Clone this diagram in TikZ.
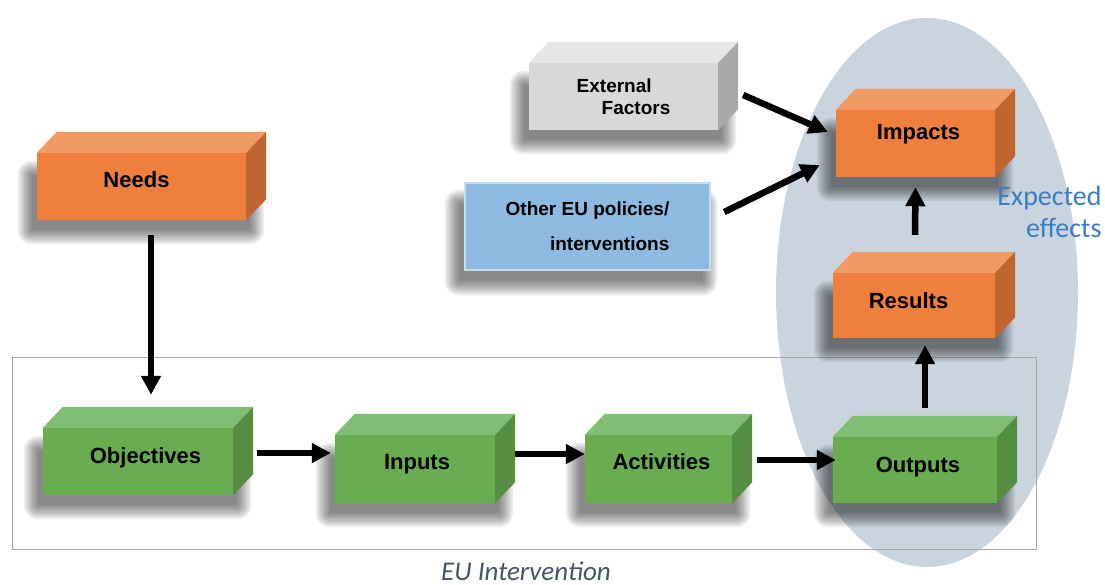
\documentclass[tikz,border=0pt]{standalone}
\usepackage{fontspec}
\setmainfont{Liberation Sans}
\newfontfamily\calibri{Carlito}
\usetikzlibrary{arrows.meta}
\definecolor{orfront}{HTML}{EE7F3C}
\definecolor{ortop}{HTML}{F29A64}
\definecolor{orside}{HTML}{BE6530}
\definecolor{grfront}{HTML}{69AD50}
\definecolor{grtop}{HTML}{80BF73}
\definecolor{grside}{HTML}{558D42}
\definecolor{gyfront}{HTML}{D8D8D8}
\definecolor{gytop}{HTML}{E6E6E6}
\definecolor{gyside}{HTML}{A9A9A9}
\definecolor{blfill}{HTML}{8EBAE2}
\definecolor{blline}{HTML}{C4DDF1}
\definecolor{effcol}{HTML}{C9D4DF}
\definecolor{slate}{HTML}{44546A}
\definecolor{effblue}{HTML}{3A7DC2}
\pgfdeclarelayer{backdrop}
\pgfdeclarelayer{shadow}
\pgfsetlayers{backdrop,shadow,main}
\newcommand*{\dpx}{20pt}
\newcommand*{\dpy}{21pt}
% top and right faces of a box, from its front node
\newcommand*{\faces}[3]{%
    \fill [#2] (#1.north west) -- ++(\dpx,\dpy) -- ([shift={(\dpx,\dpy)}]#1.north east) -- (#1.north east) -- cycle;
    \fill [#3] (#1.north east) -- ++(\dpx,\dpy) -- ([shift={(\dpx,\dpy)}]#1.south east) -- (#1.south east) -- cycle;
}
% soft shadow below left of a box
\newcommand*{\softshadow}[2][\dpx]{%
    \begin{pgfonlayer}{shadow}
    \foreach \r in {0,2,...,14}
        \fill [black, opacity=0.075, rounded corners=\r pt]
            ([shift={({-5pt-\r*1pt},{-10pt-\r*1pt})}]#2.south west) rectangle ([shift={({#1-16pt+\r*1pt},{-22pt+\r*1pt})}]#2.north east);
    \end{pgfonlayer}
}
\tikzset{
    front/.style={inner sep=0pt, minimum height=67pt},
    orbox/.style={front, fill=orfront},
    grbox/.style={front, fill=grfront},
    gybox/.style={front, fill=gyfront, font=\fontsize{19}{22}\selectfont\bfseries},
    boxtext/.style={inner sep=0pt, text height=16pt, text depth=0pt, font=\fontsize{22}{24}\selectfont\bfseries},
    arr/.style={line width=6.5pt, -{Triangle[length=19pt, width=19pt]}}
}

\begin{document}
\begin{tikzpicture}[x=1pt, y=-1pt]
    \useasboundingbox (0,0) rectangle (1105,585);
    \begin{pgfonlayer}{backdrop}
        \fill [effcol] (927,292.5) ellipse [x radius=151pt, y radius=274.5pt];
        \draw [gray!70, line width=0.8pt] (12,357) rectangle (1036,549);
    \end{pgfonlayer}
        % boxes
        \node [orbox, minimum width=209pt] (needs) at (141.5,186.5) {};
        \faces{needs}{ortop}{orside}
        \softshadow{needs}
        \node [boxtext] (needs-t) at ([shift={(-5pt,6.5pt)}]needs.center) {Needs};
        \node [grbox, minimum width=190pt] (obj) at (138,461.5) {};
        \faces{obj}{grtop}{grside}
        \softshadow{obj}
        \node [boxtext] (obj-t) at ([shift={(7.5pt,6pt)}]obj.center) {Objectives};
        \node [grbox, minimum width=160pt, minimum height=68pt] (inp) at (415,469) {};
        \faces{inp}{grtop}{grside}
        \softshadow{inp}
        \node [boxtext] (inp-t) at ([shift={(2pt,7.5pt)}]inp.center) {Inputs};
        \node [grbox, minimum width=147pt, minimum height=68pt] (act) at (658.5,469) {};
        \faces{act}{grtop}{grside}
        \softshadow{act}
        \node [boxtext] (act-t) at ([shift={(3pt,7.5pt)}]act.center) {Activities};
        \node [grbox, minimum width=164pt, minimum height=66pt] (out) at (915,470) {};
        \faces{out}{grtop}{grside}
        \softshadow{out}
        \node [boxtext] (out-t) at ([shift={(3pt,6pt)}]out.center) {Outputs};
        \node [orbox, minimum width=162pt, minimum height=65pt] (res) at (914,305.5) {};
        \faces{res}{ortop}{orside}
        \softshadow{res}
        \node [boxtext] (res-t) at ([shift={(-5.5pt,5.5pt)}]res.center) {Results};
        \node [orbox, minimum width=159pt] (imp) at (915.5,143.5) {};
        \faces{imp}{ortop}{orside}
        \softshadow{imp}
        \node [boxtext] (imp-t) at ([shift={(3pt,12pt)}]imp.center) {Impacts};
        \node [gybox, minimum width=189pt, align=left] (ext) at (623.5,96.5) {External\\\hspace*{25pt}Factors};
        \faces{ext}{gytop}{gyside}
        \softshadow{ext}
        \node [front, fill=blfill, draw=blline, line width=2.5pt, minimum width=245pt, minimum height=87pt,
            font=\fontsize{19}{35}\selectfont\bfseries, align=right] (oth) at (587.5,226.5) {\raisebox{-4pt}{Other EU policies/}\\\raisebox{-4pt}{interventions}};
        \softshadow[8pt]{oth}
        % arrows
        \draw [arr] ([xshift=9.5pt,yshift=-15pt]needs.south) -- ([xshift=13pt,yshift=33pt]obj.north);
        \draw [arr] ([xshift=24pt,yshift=8.5pt]obj.east) -- ([xshift=-4pt,yshift=16pt]inp.west);
        \draw [arr] ([xshift=20pt,yshift=15pt]inp.east) -- ([xshift=0pt,yshift=15pt]act.west);
        \draw [arr] ([xshift=25pt,yshift=9pt]act.east) -- ([xshift=3pt,yshift=10pt]out.west);
        \draw [arr] ([xshift=10pt,yshift=29pt]out.north) -- ([xshift=11pt,yshift=-7pt]res.south);
        \draw [arr] ([xshift=1pt,yshift=38pt]res.north) -- ([yshift=-10pt]imp.south);
        \draw [arr] ([xshift=25pt,yshift=1.5pt]ext.east) -- ([xshift=-8pt,yshift=11.5pt]imp.west);
        \draw [arr] ([xshift=13pt,yshift=14.5pt]oth.east) -- ([xshift=-16pt,yshift=-21.5pt]imp.west);
        % labels
        \node [font=\calibri\itshape\fontsize{27}{30}\selectfont, text=slate] (intv) at (526,571) {EU Intervention};
        \node [font=\calibri\fontsize{28}{32}\selectfont, text=effblue, align=right, anchor=east] (eff) at (1105,212) {Expected\\effects};
    \end{tikzpicture}
\end{document}
